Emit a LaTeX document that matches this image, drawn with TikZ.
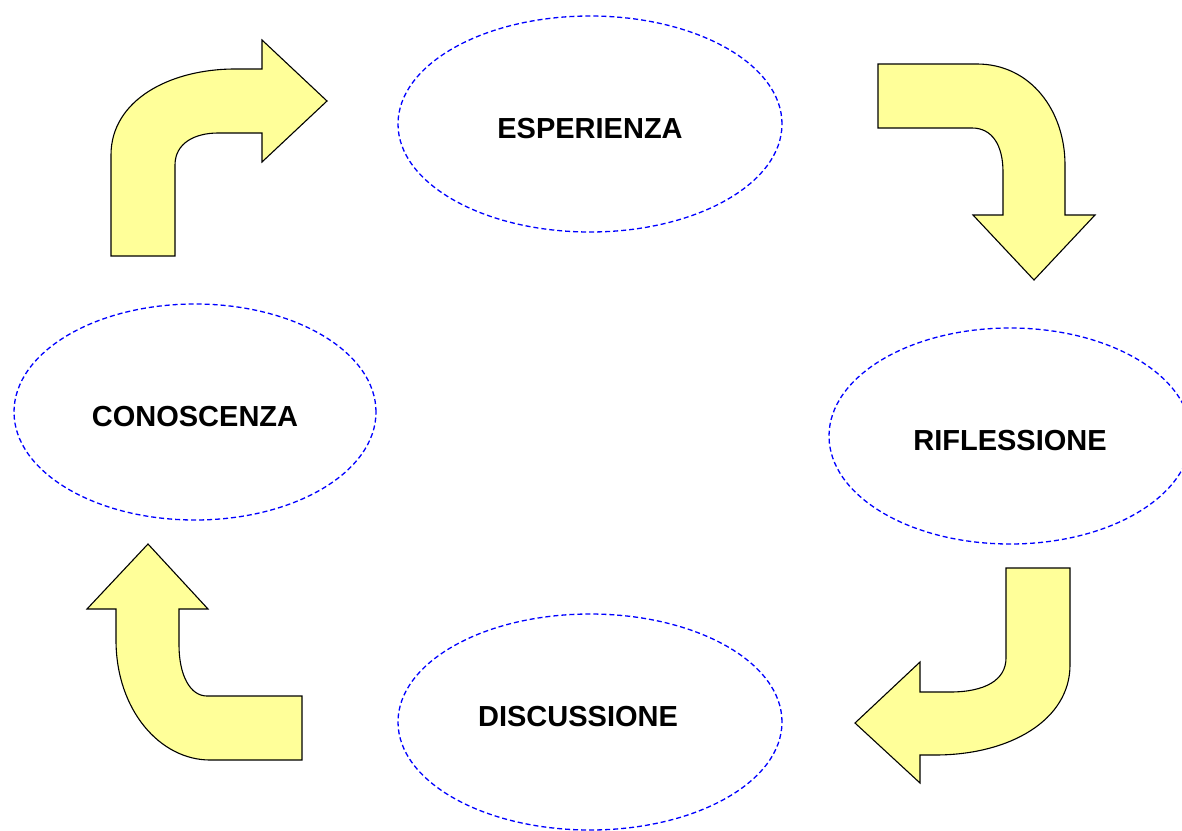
\documentclass[tikz,border=0pt]{standalone}
\usepackage{fontspec}
\setmainfont{Liberation Sans}
\usetikzlibrary{shapes.geometric}
\definecolor{pale}{HTML}{FFFF99}
\begin{document}
\begin{tikzpicture}
[x=1pt,y=-1pt, phase/.style={draw=blue,dash pattern=on 5pt off 3pt,line width=1.3pt,ellipse,inner sep=0pt,
  minimum width=384pt,minimum height=216pt,text height=29pt,text depth=0pt,
  font=\fontsize{29}{34}\selectfont\bfseries},
 bent/.style={draw=black,fill=pale,line width=1.1pt,line join=miter}]

\useasboundingbox (0,0) rectangle (1182,830);

% the phases of the cycle
\node[phase] (esp) at (590,124) {ESPERIENZA};
\node[phase,minimum width=362pt] (rif) at (1010,436) {RIFLESSIONE};
\node[phase,text height=21pt,text depth=12pt] (dis) at (590,722) {DISCUSSIONE\hspace*{24pt}};
\node[phase,minimum width=362pt] (con) at (195,412) {CONOSCENZA};

% the bent arrows
\draw[bent] (111,256) -- (111,155) .. controls (111,100) and (170,69) .. (235,69) -- (262,69)
  -- (262,40) -- (327,101) -- (262,162) -- (262,133) -- (218,133)
  .. controls (195,133) and (175,143) .. (175,165) -- (175,256) -- cycle;

\draw[bent] (878,64) -- (977,64) .. controls (1030,64) and (1065,110) .. (1065,165) -- (1065,215)
  -- (1095,215) -- (1034,280) -- (973,215) -- (1003,215) -- (1003,172)
  .. controls (1003,145) and (992,128) .. (972,128) -- (878,128) -- cycle;

\draw[bent] (1006,568) -- (1070,568) -- (1070,665) .. controls (1070,720) and (1010,755) .. (935,755) -- (920,755)
  -- (920,783) -- (855,723) -- (920,662) -- (920,692) -- (950,692)
  .. controls (985,692) and (1006,680) .. (1006,658) -- cycle;

\draw[bent] (302,696) -- (207,696) .. controls (190,696) and (179,675) .. (179,645) -- (179,609)
  -- (208,609) -- (148,544) -- (87,609) -- (116,609) -- (116,640)
  .. controls (116,710) and (160,760) .. (210,760) -- (302,760) -- cycle;

%
\end{tikzpicture}
\end{document}
